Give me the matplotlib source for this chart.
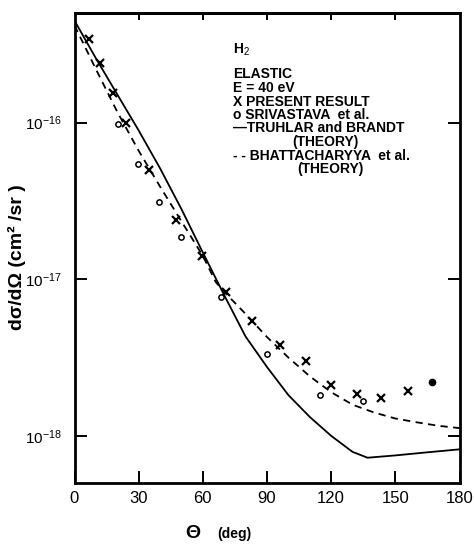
import matplotlib
matplotlib.use("Agg")
import matplotlib.pyplot as plt

plt.rcParams["font.family"] = ["Liberation Sans", "DejaVu Sans"]
plt.rcParams["mathtext.fontset"] = "custom"
plt.rcParams["mathtext.rm"] = "Liberation Sans"
plt.rcParams["mathtext.it"] = "Liberation Sans:italic"
plt.rcParams["mathtext.bf"] = "Liberation Sans:bold"

# present result (x)
present_theta = [7, 12, 18, 24, 35, 47.5, 59.5, 71, 83, 96, 108, 120, 132, 143.5, 156]
present_dcs = [3.4e-16, 2.4e-16, 1.55e-16, 1.0e-16, 5.0e-17, 2.4e-17, 1.4e-17, 8.3e-18,
               5.4e-18, 3.8e-18, 3.0e-18, 2.1e-18, 1.85e-18, 1.75e-18, 1.92e-18]
# filled point
extra_theta = [167]
extra_dcs = [2.2e-18]

# Srivastava et al. (o)
sriv_theta = [20.5, 29.5, 39.6, 50, 68.5, 90, 115, 134.7]
sriv_dcs = [9.8e-17, 5.4e-17, 3.1e-17, 1.85e-17, 7.7e-18, 3.35e-18, 1.82e-18, 1.68e-18]

# Truhlar and Brandt (solid)
tb_theta = [0, 10, 20, 30, 40, 50, 60, 70, 80, 90, 100, 110, 120, 130, 137, 150, 165, 180]
tb_dcs = [4.47e-16, 2.57e-16, 1.51e-16, 8.9e-17, 5.1e-17, 2.8e-17, 1.48e-17, 7.9e-18,
          4.3e-18, 2.75e-18, 1.82e-18, 1.32e-18, 1.0e-18, 7.9e-19, 7.25e-19, 7.5e-19,
          7.85e-19, 8.2e-19]

# Bhattacharyya et al. (dashed)
bh_theta = [0, 10, 20, 30, 40, 50, 60, 66, 70, 80, 90, 100, 110, 120, 130, 140, 150,
            160, 170, 180]
bh_dcs = [4.17e-16, 2.19e-16, 1.17e-16, 6.6e-17, 3.9e-17, 2.34e-17, 1.41e-17, 9.6e-18,
          8.3e-18, 6.0e-18, 4.27e-18, 3.16e-18, 2.4e-18, 1.9e-18, 1.58e-18, 1.41e-18,
          1.29e-18, 1.22e-18, 1.16e-18, 1.12e-18]

x_ticks = [0, 30, 60, 90, 120, 150, 180]
y_ticks = [1e-18, 1e-17, 1e-16]
y_ticklabels = ["$10^{-18}$", "$10^{-17}$", "$10^{-16}$"]

legend_lines = ["ELASTIC", "E = 40 eV", "X PRESENT RESULT", "o SRIVASTAVA  et al.",
                "\u2014TRUHLAR and BRANDT"]

W, H = 474, 544
fig = plt.figure(figsize=(W / 100, H / 100), dpi=100)
ax = fig.add_axes([74.5 / W, 1 - 483 / H, 385 / W, 470 / H])


def px(x, y):
    return x / W, 1 - y / H


ax.plot(tb_theta, tb_dcs, color="black", lw=1.3)
ax.plot(bh_theta, bh_dcs, color="black", lw=1.3, linestyle=(0, (4, 3)))
ax.plot(present_theta, present_dcs, linestyle="none", marker="x", color="black",
        ms=5.5, mew=1.6)
ax.plot(sriv_theta, sriv_dcs, linestyle="none", marker="o", mfc="white", mec="black",
        ms=3.8, mew=1.1)
ax.plot(extra_theta, extra_dcs, linestyle="none", marker="o", color="black", ms=4.5)

ax.set_yscale("log")
ax.set_xlim(0, 180)
ax.set_ylim(5e-19, 5e-16)
ax.set_xticks(x_ticks)
ax.set_yticks(y_ticks)
ax.set_yticklabels(y_ticklabels)
ax.yaxis.set_minor_locator(matplotlib.ticker.NullLocator())
ax.tick_params(axis="both", direction="in", length=8.5, width=1.4, labelsize=12)
ax.tick_params(axis="x", pad=6)
ax.tick_params(axis="y", pad=9, right=True, labelsize=11)
for s in ax.spines.values():
    s.set_linewidth(2.0)

top = ax.secondary_xaxis("top")
top.set_xticks([30, 60, 90, 120, 150])
top.tick_params(direction="in", length=5, width=1.4, labeltop=False)
top.spines["top"].set_linewidth(2.0)

# legend block as text
txt = dict(fontsize=10, fontweight="bold", va="center")
fig.text(*px(233, 50), "H$_2$", **txt)
step = 13.5
for i, t in enumerate(legend_lines):
    fig.text(*px(233, 74.5 + step * i), t, **txt)
fig.text(*px(325, 74.5 + step * 5), "(THEORY)", ha="center", **txt)
fig.text(*px(233, 74.5 + step * 6), "- - BHATTACHARYYA  et al.", **txt)
fig.text(*px(330, 74.5 + step * 7), "(THEORY)", ha="center", **txt)

fig.text(*px(17, 257), "d\u03c3/d\u03a9 (cm\u00b2 /sr )", rotation=90, fontsize=14,
         fontweight="bold", ha="center", va="center")
fig.text(*px(193, 534), "\u0398", fontsize=14, fontweight="bold", ha="center", va="center")
fig.text(*px(217, 534), "(deg)", fontsize=10, fontweight="bold", ha="left", va="center")

fig.savefig("out.png", dpi=100)
